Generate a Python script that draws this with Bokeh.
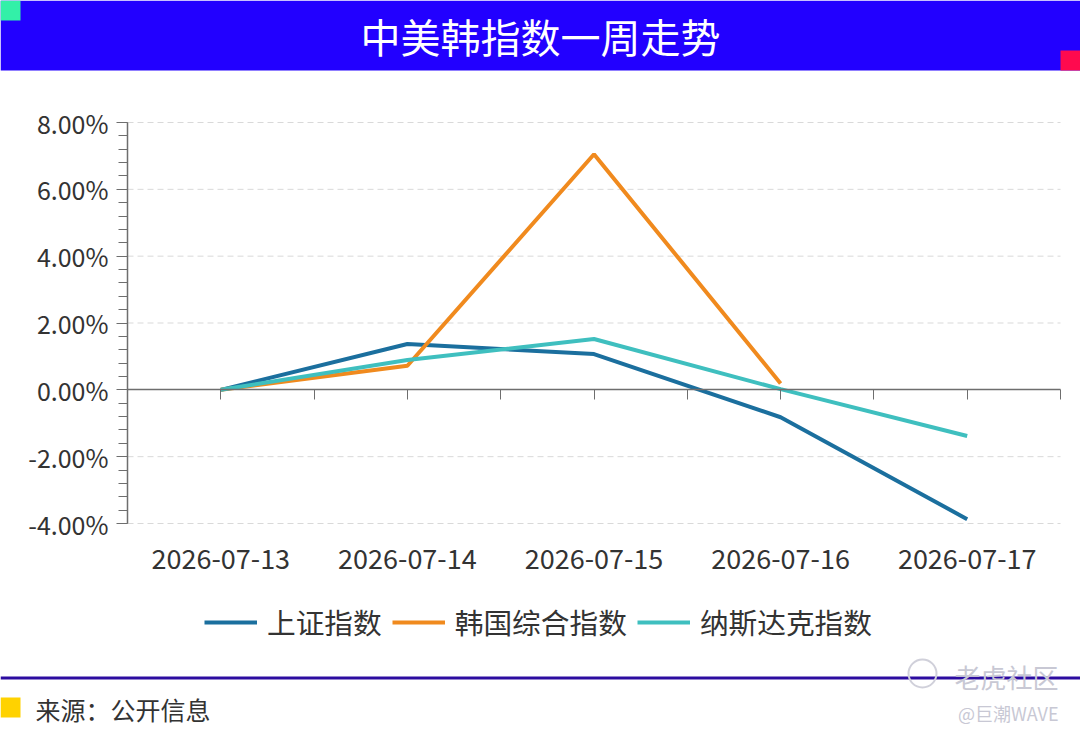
from bokeh.plotting import figure
from bokeh.models import (Range1d, LinearAxis, FixedTicker, SingleIntervalTicker,
                          PrintfTickFormatter, Legend, LegendItem, Label, ColumnDataSource)
from bokeh.embed import file_html
from bokeh.resources import INLINE

# ---------------- data ----------------
dates = ["2026-07-13", "2026-07-14", "2026-07-15", "2026-07-16", "2026-07-17"]
sse = [0.00, 1.37, 1.07, -0.82, -3.87]          # 上证指数
kospi = [0.00, 0.72, 7.05, 0.19, float("nan")]   # 韩国综合指数
nasdaq = [0.00, 0.89, 1.52, 0.02, -1.38]         # 纳斯达克指数
series_names = ["上证指数", "韩国综合指数", "纳斯达克指数"]
series_colors = ["#1b6f9e", "#f08a1e", "#3fbfbf"]
y_ticks_major = [-4, -2, 0, 2, 4, 6, 8]
title_text = "中美韩指数一周走势"
source_text = "来源：公开信息"
watermark_1 = "老虎社区"
watermark_2 = "@巨潮WAVE"

FONT = "Noto Sans CJK SC"
W, H = 1080, 738

# plot-area placement on the canvas (pixels)
PL, PR, PT, PB = 127, 1060, 122, 523
ymin, ymax = min(y_ticks_major), max(y_ticks_major)
nx = len(dates)
kx = (PR - PL) / nx
ky = (PB - PT) / (ymax - ymin)

p = figure(width=W, height=H, output_backend="svg", toolbar_location=None,
           x_range=Range1d(-PL / kx, nx + (W - PR) / kx),
           y_range=Range1d(ymin - (H - PB) / ky, ymax + PT / ky),
           x_axis_location=None, y_axis_location=None, min_border=0)
p.extra_x_ranges = {"px": Range1d(0, W)}
p.extra_y_ranges = {"px": Range1d(H, 0)}
p.outline_line_color = None
p.background_fill_color = "white"
p.border_fill_color = "white"
p.grid.visible = False

# ---------- decorations (canvas pixel coordinates) ----------
def rect(x0, y0, x1, y1, color):
    p.quad(left=[x0], right=[x1], top=[y0], bottom=[y1], fill_color=color, line_color=None,
           x_range_name="px", y_range_name="px")

rect(0, 0, W, 70, "#2200ff")
rect(0, 0, 20, 20, "#33f0a8")
rect(1060, 50, W, 70, "#ff0a4e")
rect(0, 676, W, 679, "#2c0ca0")
rect(0, 697, 20, 717, "#ffd200")
p.circle(x=[922], y=[673], radius=14, fill_color=None, line_color="#d0d0da", line_width=2,
         x_range_name="px", y_range_name="px")

def label(x, y, text, size, color, align="left"):
    p.add_layout(Label(x=x, y=y, text=text, text_align=align, text_baseline="middle",
                       text_color=color, text_font=FONT, text_font_size=size,
                       x_range_name="px", y_range_name="px"))

label(540, 35, title_text, "40px", "white", "center")
label(35, 708, source_text, "25px", "#333333")
label(1058, 676, watermark_1, "26px", "#c8c8d4", "right")
label(1058, 712, watermark_2, "18px", "#c8c8d4", "right")

# ---------- grid ----------
grid_vals = [t for t in y_ticks_major if t != 0]
p.segment(x0=[0] * len(grid_vals), x1=[nx] * len(grid_vals), y0=grid_vals, y1=grid_vals,
          line_color="#d9d9d9", line_width=1, line_dash="6 4")

# ---------- series ----------
xs = [i + 0.5 for i in range(nx)]
renderers = []
for vals, col in zip([sse, kospi, nasdaq], series_colors):
    src = ColumnDataSource(dict(x=xs, y=vals))
    renderers.append(p.line("x", "y", source=src, line_color=col, line_width=4))

# ---------- axes ----------
yax = LinearAxis(ticker=SingleIntervalTicker(interval=2, num_minor_ticks=5),
                 formatter=PrintfTickFormatter(format="%.2f%%"),
                 fixed_location=0, bounds=(ymin, ymax))
yax.axis_line_color = "#6e6e6e"
yax.axis_line_width = 1.5
yax.major_tick_line_color = "#6e6e6e"
yax.minor_tick_line_color = "#6e6e6e"
yax.major_tick_out = 11
yax.major_tick_in = 0
yax.minor_tick_out = 9
yax.minor_tick_in = 0
yax.major_label_text_font = FONT
yax.major_label_text_font_size = "25px"
yax.major_label_text_color = "#333333"
yax.major_label_standoff = 8
p.add_layout(yax, "left")

tick_pos = sorted(set(xs + [i + 1.0 for i in range(nx)]))
xax0 = LinearAxis(ticker=FixedTicker(ticks=tick_pos), fixed_location=0, bounds=(0, nx))
xax0.major_label_overrides = {t: "" for t in tick_pos}
xax0.major_label_text_font_size = "1px"
xax0.axis_line_color = "#6e6e6e"
xax0.axis_line_width = 1.5
xax0.major_tick_line_color = "#6e6e6e"
xax0.major_tick_out = 10
xax0.major_tick_in = 0
xax0.minor_tick_line_color = None
p.add_layout(xax0, "below")

xax = LinearAxis(ticker=FixedTicker(ticks=xs), fixed_location=ymin, bounds=(0, nx))
xax.major_label_overrides = {x: d for x, d in zip(xs, dates)}
xax.axis_line_color = None
xax.major_tick_line_color = None
xax.minor_tick_line_color = None
xax.major_tick_out = 0
xax.major_tick_in = 0
xax.major_label_text_font = FONT
xax.major_label_text_font_size = "27px"
xax.major_label_text_color = "#333333"
xax.major_label_standoff = 25
p.add_layout(xax, "below")

# ---------- legend ----------
legend = Legend(items=[LegendItem(label=n, renderers=[r]) for n, r in zip(series_names, renderers)],
                orientation="horizontal", location=(204, H - 642))
legend.border_line_color = None
legend.background_fill_alpha = 0
legend.label_text_font = FONT
legend.label_text_font_size = "28.7px"
legend.label_text_color = "#333333"
legend.glyph_width = 53
legend.glyph_height = 34
legend.label_height = 34
legend.label_standoff = 10
legend.spacing = 10
legend.padding = 0
legend.margin = 0
p.add_layout(legend, "center")

open("out.html", "w").write(file_html(p, INLINE))
